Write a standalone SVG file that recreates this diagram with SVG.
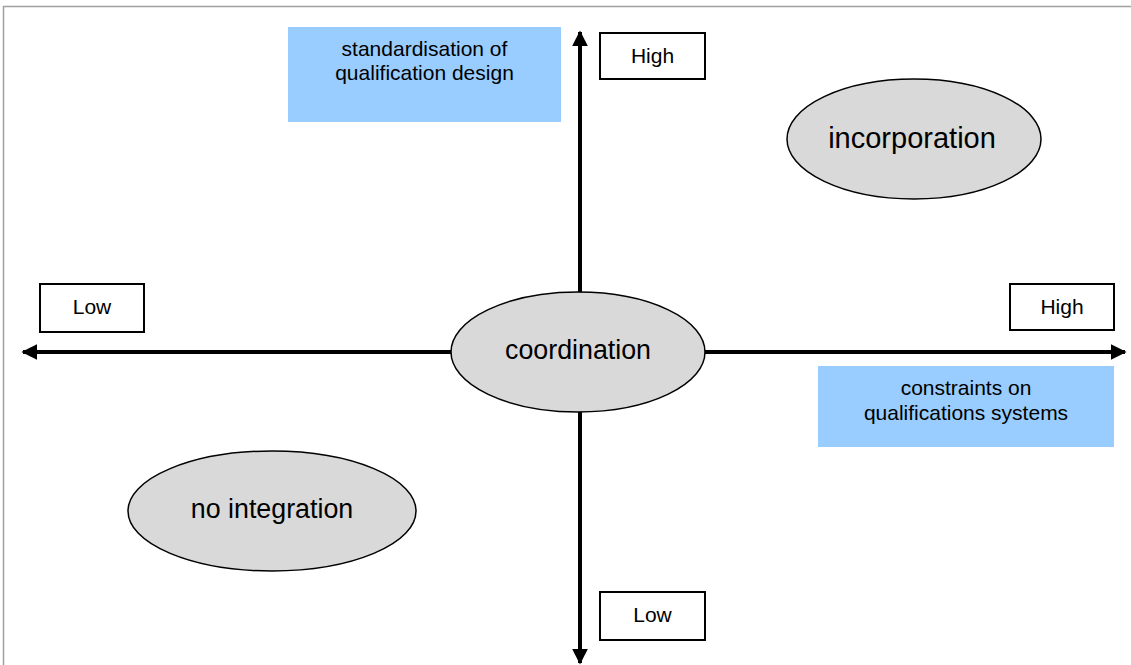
<svg xmlns="http://www.w3.org/2000/svg" width="1131" height="665" viewBox="0 0 1131 665">
<style>
text{font-family:"Liberation Sans",Arial,sans-serif;fill:#000;text-anchor:middle}
.sm{font-size:21px}
.big{font-size:26.8px}
.box{fill:#fff;stroke:#000;stroke-width:2}
.blue{fill:#99ccff}
.ell{fill:#d9d9d9;stroke:#000;stroke-width:1.5}
.axis{stroke:#000;stroke-width:4;fill:none}
</style>
<defs>
<marker id="ah" viewBox="0 0 10 10" refX="9" refY="5" markerWidth="4" markerHeight="4" markerUnits="strokeWidth" orient="auto">
<path d="M0,0 L10,5 L0,10 Z" fill="#000"/>
</marker>
</defs>
<rect x="3.5" y="6.5" width="1200" height="700" fill="#fff" stroke="#a0a0a0" stroke-width="1.5"/>
<g id="connectors">
<line class="axis" x1="580" y1="352" x2="580" y2="32" marker-end="url(#ah)"/>
<line class="axis" x1="580" y1="352" x2="580" y2="663" marker-end="url(#ah)"/>
<line class="axis" x1="578" y1="352" x2="23" y2="352" marker-end="url(#ah)"/>
<line class="axis" x1="578" y1="352" x2="1125" y2="352" marker-end="url(#ah)"/>
</g>
<g id="label-standardisation">
<rect class="blue" x="288" y="27" width="273" height="95"/>
<text class="sm" x="424.5" y="56">standardisation of</text>
<text class="sm" x="424.5" y="80">qualification design</text>
</g>
<g id="label-constraints">
<rect class="blue" x="818" y="366" width="296" height="81"/>
<text class="sm" x="966" y="395">constraints on</text>
<text class="sm" x="966" y="420">qualifications systems</text>
</g>
<g id="high-top">
<rect class="box" x="600" y="33" width="105" height="46"/>
<text class="sm" x="652.5" y="63">High</text>
</g>
<g id="low-bottom">
<rect class="box" x="600" y="592" width="105" height="48"/>
<text class="sm" x="652.5" y="622">Low</text>
</g>
<g id="low-left">
<rect class="box" x="40" y="284" width="104" height="48"/>
<text class="sm" x="92" y="314">Low</text>
</g>
<g id="high-right">
<rect class="box" x="1010" y="284" width="104" height="46"/>
<text class="sm" x="1062" y="314">High</text>
</g>
<g id="coordination">
<ellipse class="ell" cx="578" cy="352" rx="127" ry="60"/>
<text class="big" x="578" y="359">coordination</text>
</g>
<g id="incorporation">
<ellipse class="ell" cx="914" cy="139" rx="127" ry="60"/>
<text x="912" y="148" style="font-size:29px">incorporation</text>
</g>
<g id="no-integration">
<ellipse class="ell" cx="272" cy="511" rx="144" ry="60"/>
<text class="big" x="272" y="518">no integration</text>
</g>
</svg>
